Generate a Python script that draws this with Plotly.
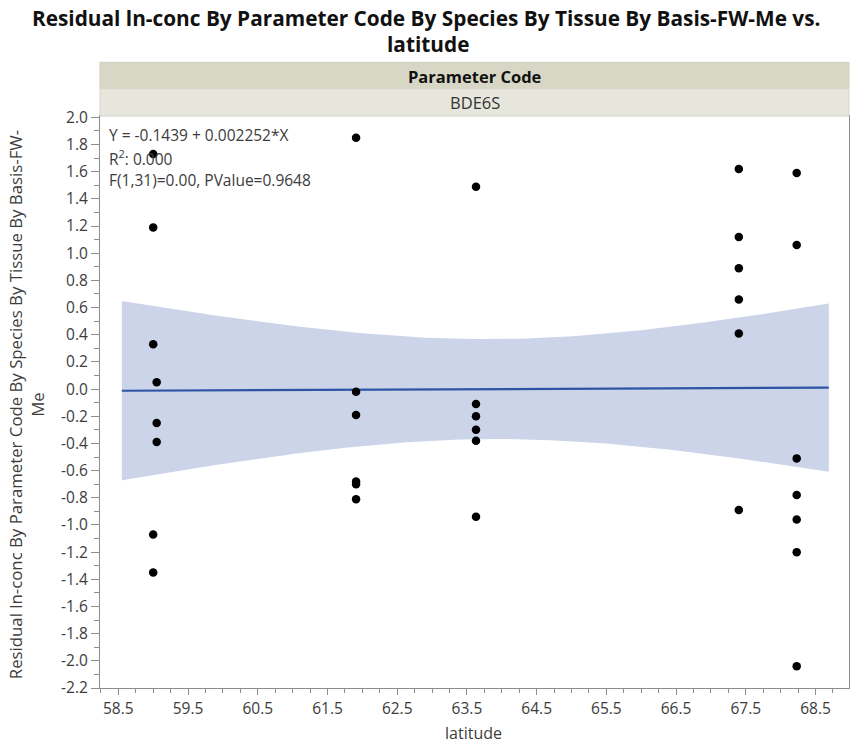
import numpy as np
import plotly.graph_objects as go

# ---- data ----
latitude = [59.00, 59.00, 59.00, 59.00, 59.00, 59.05, 59.05, 59.05,
            61.91, 61.91, 61.91, 61.91, 61.91, 61.91,
            63.63, 63.63, 63.63, 63.63, 63.63, 63.63,
            67.40, 67.40, 67.40, 67.40, 67.40, 67.40,
            68.23, 68.23, 68.23, 68.23, 68.23, 68.23, 68.23]
residual = [1.73, 1.19, 0.33, -1.07, -1.35, 0.05, -0.25, -0.39,
            1.85, -0.02, -0.19, -0.68, -0.70, -0.81,
            1.49, -0.11, -0.20, -0.30, -0.38, -0.94,
            1.62, 1.12, 0.89, 0.66, 0.41, -0.89,
            1.59, 1.06, -0.51, -0.78, -0.96, -1.20, -2.04]

fit_intercept = -0.1439
fit_slope = 0.002252
fit_text = ["Y = -0.1439 + 0.002252*X", "R<sup>2</sup>: 0.000", "F(1,31)=0.00, PValue=0.9648"]
x_ticks = [58.5, 59.5, 60.5, 61.5, 62.5, 63.5, 64.5, 65.5, 66.5, 67.5, 68.5]
y_ticks = [round(-2.2 + 0.2 * i, 1) for i in range(22)]
panel_header = "Parameter Code"
panel_value = "BDE6S"
title_lines = ["Residual ln-conc By Parameter Code By Species By Tissue By Basis-FW-Me vs.", "latitude"]
y_title = "Residual ln-conc By Parameter Code By Species By Tissue By Basis-FW-<br>Me"
x_title = "latitude"
T_975_31 = 2.0395  # t quantile for 95% CI, df = 31
FIT_X_MIN, FIT_X_MAX = 58.55, 68.69

# ---- fit band ----
x = np.array(latitude)
y = np.array(residual)
n = len(x)
yhat_pts = fit_intercept + fit_slope * x
s = np.sqrt(np.sum((y - yhat_pts) ** 2) / (n - 2))
xbar = x.mean()
sxx = np.sum((x - xbar) ** 2)
xs = np.linspace(FIT_X_MIN, FIT_X_MAX, 120)
ys = fit_intercept + fit_slope * xs
half = T_975_31 * s * np.sqrt(1.0 / n + (xs - xbar) ** 2 / sxx)

FONT = "Open Sans"
TXT = "#3c3c3c"

fig = go.Figure()
fig.add_trace(go.Scatter(
    x=np.concatenate([xs, xs[::-1]]), y=np.concatenate([ys + half, (ys - half)[::-1]]),
    fill="toself", fillcolor="#cbd4e8", line=dict(width=0), mode="lines",
    hoverinfo="skip", showlegend=False))
fig.add_trace(go.Scatter(x=xs, y=ys, mode="lines", line=dict(color="#2e54a6", width=2.2),
                         showlegend=False))
fig.add_trace(go.Scatter(x=latitude, y=residual, mode="markers",
                         marker=dict(color="black", size=8.5), showlegend=False))

L, R, T, B = 100, 7.3, 115.5, 64
W, H = 856, 752
ph = H - T - B


def py(p):
    return (H - B - p) / ph


def px(p):
    return (p - L) / (W - L - R)


shapes = [
    dict(type="rect", xref="paper", yref="paper", x0=0, x1=1, y0=py(88.3), y1=py(61.7),
         fillcolor="#d8d7c6", line=dict(color="#d0cfbf", width=1), layer="above"),
    dict(type="rect", xref="paper", yref="paper", x0=0, x1=1, y0=py(115.5), y1=py(88.3),
         fillcolor="#e7e6dd", line=dict(color="#d6d5c8", width=1), layer="above"),
]

annotations = [
    dict(text=f"<b>{panel_header}</b>", xref="paper", yref="paper", x=0.5, y=py(75.5),
         showarrow=False, font=dict(family=FONT, size=16.5, color="#111111"), yanchor="middle"),
    dict(text=panel_value, xref="paper", yref="paper", x=0.5, y=py(101.5),
         showarrow=False, font=dict(family=FONT, size=16.5, color="#333333"), yanchor="middle"),
    dict(text=f"<b>{title_lines[0]}</b>", xref="paper", yref="paper", x=px(426), y=py(17),
         showarrow=False, font=dict(family=FONT, size=20.8, color="#111111"), yanchor="middle"),
    dict(text=f"<b>{title_lines[1]}</b>", xref="paper", yref="paper", x=px(428), y=py(43),
         showarrow=False, font=dict(family=FONT, size=20.8, color="#111111"), yanchor="middle"),
    dict(text=y_title, xref="paper", yref="paper", x=px(26), y=py(404), textangle=-90,
         showarrow=False, font=dict(family=FONT, size=16.8, color=TXT), align="center",
         xanchor="center", yanchor="middle"),
    dict(text=x_title, xref="paper", yref="paper", x=px(473), y=py(733),
         showarrow=False, font=dict(family=FONT, size=16, color=TXT), yanchor="middle"),
]
for i, t in enumerate(fit_text):
    annotations.append(dict(text=t, xref="paper", yref="paper", x=px(107), y=py(135 + 22.5 * i),
                            xanchor="left", yanchor="middle", showarrow=False,
                            font=dict(family=FONT, size=15.5, color=TXT)))

fig.update_layout(
    width=W, height=H, margin=dict(l=L, r=R, t=T, b=B, autoexpand=False),
    paper_bgcolor="white", plot_bgcolor="white",
    shapes=shapes, annotations=annotations, showlegend=False,
    xaxis=dict(range=[58.237, 68.98], tickvals=x_ticks, ticktext=[f"{v:.1f}" for v in x_ticks],
               ticks="outside", ticklen=6, tickcolor="#8c8c8c", showgrid=False, zeroline=False,
               showline=True, linecolor="#8c8c8c", linewidth=1, mirror=True,
               tickfont=dict(family=FONT, size=15.5, color=TXT),
               minor=dict(dtick=0.25, tick0=58.25, ticks="outside", ticklen=4, tickcolor="#8c8c8c")),
    yaxis=dict(range=[-2.2, 2.01], tickvals=y_ticks, ticktext=[f"{v:.1f}" for v in y_ticks],
               ticks="outside", ticklen=8, tickcolor="#8c8c8c", showgrid=False, zeroline=False,
               showline=True, linecolor="#8c8c8c", linewidth=1, mirror=True,
               tickfont=dict(family=FONT, size=15.5, color=TXT),
               minor=dict(dtick=0.1, tick0=0, ticks="outside", ticklen=5, tickcolor="#8c8c8c")),
)

post = ("document.body.style.margin='0';document.body.style.padding='0';"
        "document.documentElement.style.overflow='hidden';document.body.style.overflow='hidden';"
        "var gd=document.getElementById('{plot_id}');gd.style.width='856px';gd.style.height='752px';"
        "Plotly.relayout(gd,{width:856,height:752});")

fig.write_html("out.html", config={"responsive": False, "displayModeBar": False}, post_script=post)
